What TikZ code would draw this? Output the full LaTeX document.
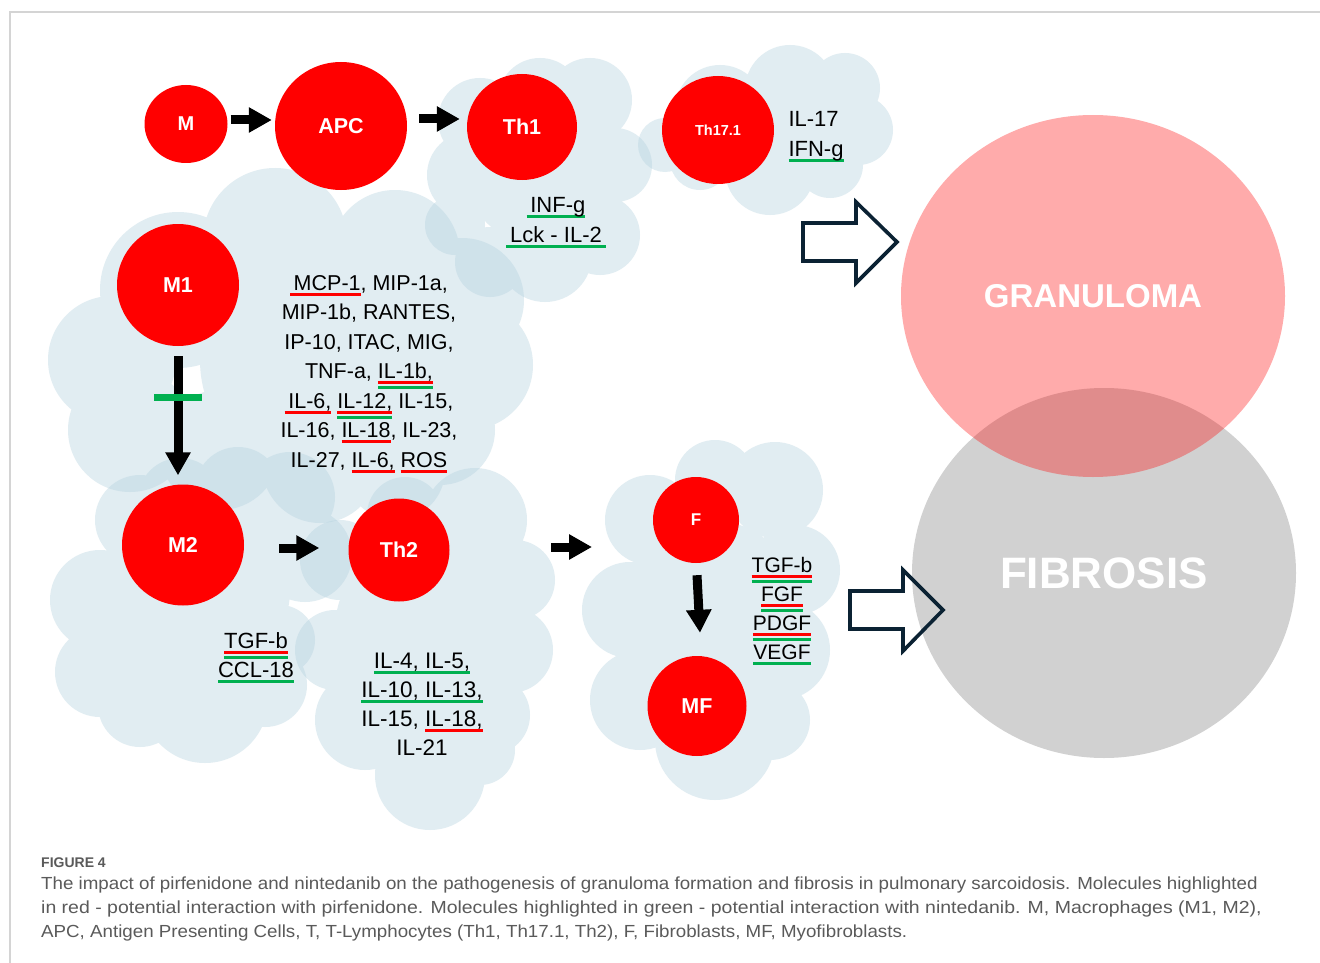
\documentclass[tikz,border=0pt]{standalone}
\usepackage{fontspec}
\setmainfont{Liberation Sans}
\usetikzlibrary{shapes.geometric,arrows.meta,calc}
\definecolor{cellred}{HTML}{FF0000}
\definecolor{ulred}{HTML}{FF0000}
\definecolor{ulgreen}{HTML}{00B050}
\definecolor{cloudc}{RGB}{180,210,223}
\definecolor{navy}{HTML}{0B2233}
\definecolor{fibgray}{HTML}{D1D1D1}
\definecolor{framegray}{HTML}{D4D4D4}
\definecolor{capgray}{HTML}{5A5A5A}
\newcommand\ulx[3]{\setbox0\hbox{#3}\rlap{\color{#1}\rule[#2]{\wd0}{3pt}}\box0\relax}
\newcommand\ur[1]{\ulx{ulred}{-5.5pt}{#1}}
\newcommand\ug[1]{\ulx{ulgreen}{-5.5pt}{#1}}
\newcommand\urg[1]{\ulx{ulgreen}{-10.5pt}{\ulx{ulred}{-5.5pt}{#1}}}
\begin{document}
\begin{tikzpicture}[x=1pt,y=-1pt,
  cell/.style={ellipse, fill=cellred, text=white, inner sep=0pt, font=\bfseries\fontsize{21.5}{21.5}\selectfont},
  txt/.style={align=center, inner sep=0pt, font=\fontsize{22}{29.5}\selectfont},
  cloudfill/.style={fill=cloudc, fill opacity=0.4},
  blkarrow/.style={line width=9pt, black, -{Triangle[width=24pt,length=23pt]}},
  inhibit/.style={line width=7.5pt, ulgreen},
  hollow/.style={draw=navy, line width=3.6pt, line join=miter},
  bigtxt/.style={text=white, text opacity=1, font=\bfseries},
  captxt/.style={anchor=base west, inner sep=0pt, text=capgray, font=\fontsize{17.5}{17.5}\selectfont}]
\useasboundingbox (0,0) rectangle (1320,963);
\fill[white] (0,0) rectangle (1320,963);
\draw[framegray, line width=1.2pt] (10,963) -- (10,12) -- (1320,12);

% clouds
\fill[cloudfill] \foreach \x/\y/\r in {480/120/42, 540/100/42, 590/100/42, 615/165/37, 600/235/40, 545/255/47, 455/225/30, 490/262/35, 470/175/43, 540/170/75} {(\x,\y) circle[radius=\r pt]};
\fill[cloudfill] \foreach \x/\y/\r in {665/145/27, 720/110/45, 790/90/45, 845/88/35, 858/130/35, 830/165/33, 770/170/45, 700/160/30, 770/130/60} {(\x,\y) circle[radius=\r pt]};
\fill[cloudfill] \foreach \x/\y/\r in {275/240/72, 395/255/65, 462/300/62, 468/365/65, 440/430/55, 395/470/50, 320/465/58, 178/290/78, 112/360/64, 130/430/62, 220/450/60, 320/360/120} {(\x,\y) circle[radius=\r pt]};
\fill[cloudfill] \foreach \x/\y/\r in {140/520/45, 180/500/42, 238/490/43, 290/497/45, 305/555/47, 280/640/35, 100/600/50, 100/672/45, 140/705/42, 205/700/63, 265/685/42, 200/590/90, 160/650/60} {(\x,\y) circle[radius=\r pt]};
\fill[cloudfill] \foreach \x/\y/\r in {340/560/40, 405/515/38, 475/520/52, 515/580/40, 510/650/43, 490/715/40, 480/750/35, 430/775/55, 365/720/50, 335/650/40, 430/630/95} {(\x,\y) circle[radius=\r pt]};
\fill[cloudfill] \foreach \x/\y/\r in {650/520/45, 715/480/40, 775/490/48, 795/570/45, 780/650/50, 630/610/48, 640/700/50, 715/740/60, 770/720/40, 710/610/90} {(\x,\y) circle[radius=\r pt]};

% outcome ellipses
\node[ellipse, fill=fibgray, inner sep=0pt, minimum width=384pt, minimum height=370pt, bigtxt, font=\bfseries\fontsize{44}{44}\selectfont] (fib) at (1104,573) {FIBROSIS};
\node[ellipse, fill=red, fill opacity=0.33, inner sep=0pt, minimum width=384pt, minimum height=362pt, bigtxt, font=\bfseries\fontsize{33}{33}\selectfont] (gran) at (1093,296) {GRANULOMA};

% cells
\node[cell, minimum width=83pt, minimum height=78pt, font=\bfseries\fontsize{20}{20}\selectfont] (M) at (186,124) {M};
\node[cell, minimum width=132pt, minimum height=128pt] (APC) at (341,126) {APC};
\node[cell, minimum width=110pt, minimum height=106pt] (Th1) at (522,127) {Th1};
\node[cell, minimum width=112pt, minimum height=108pt, font=\bfseries\fontsize{14.5}{14.5}\selectfont] (Th17) at (718,130) {Th17.1};
\node[cell, minimum width=122pt, minimum height=122pt] (M1) at (178,285) {M1};
\node[cell, minimum width=122pt, minimum height=121pt] (M2) at (183,545) {M2};
\node[cell, minimum width=101pt, minimum height=103pt] (Th2) at (399,550) {Th2};
\node[cell, minimum width=86pt, minimum height=86pt, font=\bfseries\fontsize{17}{17}\selectfont] (F) at (696,520) {F};
\node[cell, minimum width=99pt, minimum height=100pt] (MF) at (697,706) {MF};

% arrows
\draw[blkarrow] ($(M.east)+(3,-4)$) -- ($(APC.west)+(-3,-6)$);
\draw[blkarrow] ($(APC.east)+(12,-7)$) -- ($(Th1.west)+(-7,-8)$);
\draw[blkarrow] ($(M1.south)+(0,10)$) -- ($(M2.north)+(-5,-9)$);
\draw[inhibit] ($(M1.south)+(-24,51.5)$) -- ($(M1.south)+(24,51.5)$);
\draw[blkarrow] ($(M2.east)+(35,3)$) -- ($(Th2.west)+(-29,-2)$);
\coordinate (th2out) at (551,547);
\coordinate (fin) at (592,547);
\draw[blkarrow] (th2out) -- (fin);
\draw[blkarrow] ($(F.south)+(1,12)$) -- ($(MF.north)+(3,-23)$);

% hollow block arrows
\draw[hollow] (803,223) -- (856,223) -- (856,202) -- (897,242) -- (856,283) -- (856,261) -- (803,261) -- cycle;
\draw[hollow] (850,591) -- (903,591) -- (903,570) -- (943,610) -- (903,651) -- (903,629) -- (850,629) -- cycle;

% molecule labels
\node[txt, font=\fontsize{21.5}{29.5}\selectfont] (m1txt) at (369,374) {\ur{\,MCP-1}, MIP-1a,\\ MIP-1b, RANTES,\\ IP-10, ITAC, MIG,\\ TNF-a, \urg{IL-1b,}\\ \ur{\,IL-6,} \urg{IL-12,} IL-15,\\ IL-16, \ur{IL-18}, IL-23,\\ IL-27, \ur{IL-6,} \ur{ROS}};
\node[txt, font=\fontsize{22}{30}\selectfont] (th1txt) at (556,223) {\ug{\,INF-g}\\ \ug{\,Lck - IL-2\,}};
\node[txt, align=left, font=\fontsize{22}{30}\selectfont] (th17txt) at (816,137) {IL-17\\ \ug{IFN-g}};
\node[txt, font=\fontsize{22}{29}\selectfont] (m2txt) at (256,658) {\urg{TGF-b}\\ \ug{CCL-18}};
\node[txt, font=\fontsize{22.5}{29}\selectfont] (th2txt) at (422,704) {\ug{IL-4, IL-5,}\\ \ug{IL-10, IL-13,}\\ IL-15, \ur{IL-18,}\\ IL-21};
\node[txt, font=\fontsize{21}{29}\selectfont] (ftxt) at (782,611) {\urg{TGF-b}\\ \urg{FGF}\\ \urg{PDGF}\\ \ug{VEGF}};

% caption
\node[captxt, font=\bfseries\fontsize{14}{14}\selectfont] (figlbl) at (41,867) {FIGURE 4};
\node[captxt] (cap1) at (41,889) {\scalebox{1.071}[1]{The impact of pirfenidone and nintedanib on the pathogenesis of granuloma formation and fibrosis in pulmonary sarcoidosis. Molecules highlighted}};
\node[captxt] (cap2) at (41,913) {\scalebox{1.113}[1]{in red - potential interaction with pirfenidone. Molecules highlighted in green - potential interaction with nintedanib. M, Macrophages (M1, M2),}};
\node[captxt] (cap3) at (41,937) {\scalebox{1.071}[1]{APC, Antigen Presenting Cells, T, T-Lymphocytes (Th1, Th17.1, Th2), F, Fibroblasts, MF, Myofibroblasts.}};
\end{tikzpicture}
\end{document}
